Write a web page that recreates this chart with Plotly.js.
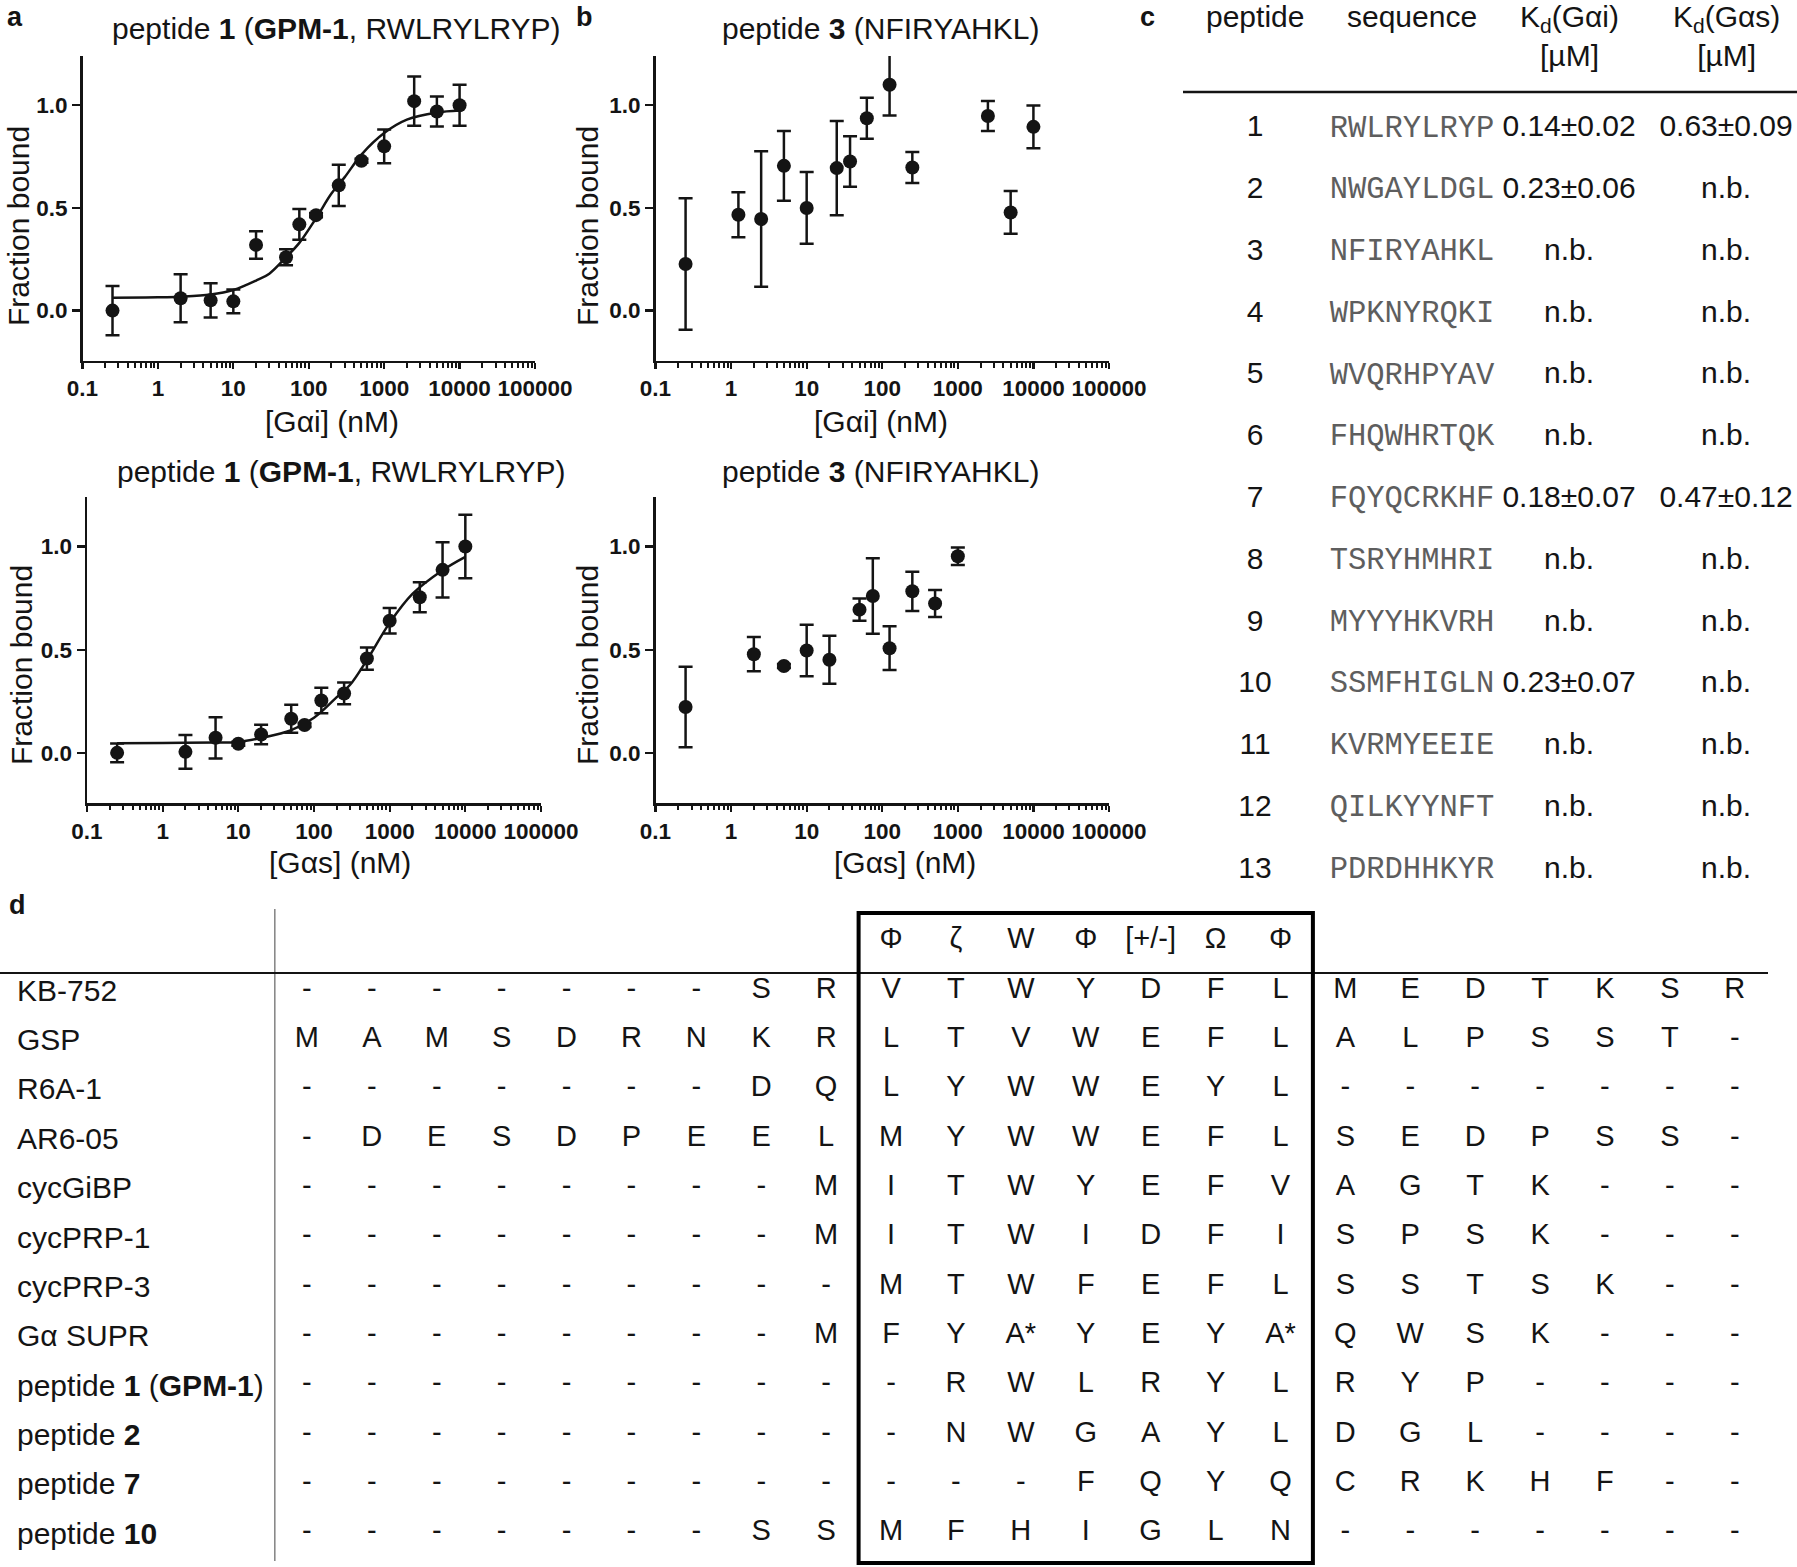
<!DOCTYPE html>
<html>
<head>
<meta charset="utf-8">
<script src="https://cdn.plot.ly/plotly-3.0.1.min.js"></script>
<style>html,body{margin:0;padding:0;background:#fff;}#chart{width:1797px;height:1567px;}</style>
</head>
<body>
<div id="chart"></div>
<script>
// ---------- data ----------
const xTickVals = [0.1, 1, 10, 100, 1000, 10000, 100000];
const xTickText = ['0.1', '1', '10', '100', '1000', '10000', '100000'];
const yTickVals = [0, 0.5, 1];
const yTickText = ['0.0', '0.5', '1.0'];

// a: peptide 1 vs Gαi
const aConc = [0.25, 2, 5, 10, 20, 50, 75, 125, 250, 500, 1000, 2500, 5000, 10000];
const aFrac = [0.00, 0.06, 0.05, 0.045, 0.32, 0.26, 0.42, 0.465, 0.61, 0.73, 0.80, 1.02, 0.97, 1.00];
const aErr  = [0.12, 0.117, 0.083, 0.058, 0.067, 0.039, 0.075, 0.01, 0.10, 0.01, 0.082, 0.12, 0.073, 0.10];
const aFitConc = [0.25, 1, 2, 5, 10, 20, 30, 50, 75, 125, 200, 300, 500, 1000, 2000, 5000, 10000];
const aFitFrac = [0.063, 0.065, 0.068, 0.078, 0.10, 0.146, 0.18, 0.26, 0.33, 0.45, 0.57, 0.65, 0.76, 0.865, 0.93, 0.965, 0.975];

// b: peptide 3 vs Gαi
const bConc = [0.25, 1.25, 2.5, 5, 10, 25, 37.5, 62.5, 125, 250, 2500, 5000, 10000];
const bFrac = [0.227, 0.467, 0.446, 0.705, 0.50, 0.694, 0.726, 0.937, 1.10, 0.697, 0.948, 0.478, 0.895];
const bErr  = [0.32, 0.11, 0.33, 0.17, 0.175, 0.23, 0.123, 0.10, 0.15, 0.075, 0.073, 0.104, 0.104];

// a (bottom): peptide 1 vs Gαs
const cConc = [0.25, 2, 5, 10, 20, 50, 75, 125, 250, 500, 1000, 2500, 5000, 10000];
const cFrac = [0.00, 0.005, 0.073, 0.044, 0.089, 0.165, 0.135, 0.254, 0.288, 0.457, 0.64, 0.754, 0.887, 1.00];
const cErr  = [0.045, 0.082, 0.10, 0.01, 0.047, 0.068, 0.01, 0.062, 0.053, 0.054, 0.062, 0.073, 0.134, 0.154];
const cFitConc = [0.25, 1, 5, 10, 20, 50, 100, 200, 300, 500, 1000, 2000, 5000, 10000];
const cFitFrac = [0.047, 0.048, 0.05, 0.053, 0.072, 0.11, 0.17, 0.27, 0.33, 0.45, 0.63, 0.77, 0.885, 0.95];

// b (bottom): peptide 3 vs Gαs
const dConc = [0.25, 2, 5, 10, 20, 50, 75, 125, 250, 500, 1000];
const dFrac = [0.222, 0.478, 0.421, 0.496, 0.451, 0.694, 0.76, 0.507, 0.783, 0.724, 0.953];
const dErr  = [0.195, 0.083, 0.01, 0.125, 0.116, 0.054, 0.183, 0.106, 0.095, 0.065, 0.042];

// c: table
const tableCols = ['peptide', 'sequence', 'kdGai', 'kdGas'];
const tableHeaders = ['peptide', 'sequence', 'K<sub>d</sub>(Gαi)<br>[µM]', 'K<sub>d</sub>(Gαs)<br>[µM]'];
const peptideIds = [1, 2, 3, 4, 5, 6, 7, 8, 9, 10, 11, 12, 13];
const peptideSeqs = ['RWLRYLRYP', 'NWGAYLDGL', 'NFIRYAHKL', 'WPKNYRQKI', 'WVQRHPYAV', 'FHQWHRTQK', 'FQYQCRKHF',
                     'TSRYHMHRI', 'MYYYHKVRH', 'SSMFHIGLN', 'KVRMYEEIE', 'QILKYYNFT', 'PDRDHHKYR'];
const kdGai = ['0.14±0.02', '0.23±0.06', 'n.b.', 'n.b.', 'n.b.', 'n.b.', '0.18±0.07', 'n.b.', 'n.b.', '0.23±0.07', 'n.b.', 'n.b.', 'n.b.'];
const kdGas = ['0.63±0.09', 'n.b.', 'n.b.', 'n.b.', 'n.b.', 'n.b.', '0.47±0.12', 'n.b.', 'n.b.', 'n.b.', 'n.b.', 'n.b.', 'n.b.'];

// d: alignment
const motif = ['Φ', 'ζ', 'W', 'Φ', '[+/-]', 'Ω', 'Φ'];
const alignNames = ['KB-752', 'GSP', 'R6A-1', 'AR6-05', 'cycGiBP', 'cycPRP-1', 'cycPRP-3', 'Gα SUPR',
                    'peptide <b>1</b> (<b>GPM-1</b>)', 'peptide <b>2</b>', 'peptide <b>7</b>', 'peptide <b>10</b>'];
const alignN = [
  '- - - - - - - S R', 'M A M S D R N K R', '- - - - - - - D Q', '- D E S D P E E L',
  '- - - - - - - - M', '- - - - - - - - M', '- - - - - - - - -', '- - - - - - - - M',
  '- - - - - - - - -', '- - - - - - - - -', '- - - - - - - - -', '- - - - - - - S S'];
const alignCore = [
  'V T W Y D F L', 'L T V W E F L', 'L Y W W E Y L', 'M Y W W E F L',
  'I T W Y E F V', 'I T W I D F I', 'M T W F E F L', 'F Y A* Y E Y A*',
  '- R W L R Y L', '- N W G A Y L', '- - - F Q Y Q', 'M F H I G L N'];
const alignC = [
  'M E D T K S R', 'A L P S S T -', '- - - - - - -', 'S E D P S S -',
  'A G T K - - -', 'S P S K - - -', 'S S T S K - -', 'Q W S K - - -',
  'R Y P - - - -', 'D G L - - - -', 'C R K H F - -', '- - - - - - -'];

// ---------- layout helpers ----------
const W = 1797, H = 1567;
const INK = '#141414';
const FONT = 'Liberation Sans, Arial, Helvetica, sans-serif';
const px = v => v / W;
const py = v => 1 - v / H;

function xAxis(x0, x1, anchor) {
  return {
    type: 'log', domain: [px(x0), px(x1)], range: [-1, 5], anchor: anchor,
    showline: true, linecolor: INK, linewidth: 2.5, ticks: 'outside', ticklen: 6, tickwidth: 2.3, tickcolor: INK,
    tickmode: 'array', tickvals: xTickVals, ticktext: xTickText,
    tickfont: {family: FONT, size: 22.5, weight: 'bold', color: INK}, ticklabelstandoff: 0,
    showgrid: false, zeroline: false, fixedrange: true,
    minor: {ticks: 'outside', ticklen: 4.5, tickwidth: 2, tickcolor: INK, dtick: 'D1', showgrid: false}
  };
}
function yAxis(y0, y1, anchor) {
  return {
    domain: [py(y1), py(y0)], range: [-0.243, 1.24], anchor: anchor,
    showline: true, linecolor: INK, linewidth: 2.5, ticks: 'outside', ticklen: 8, tickwidth: 2.3, tickcolor: INK,
    tickmode: 'array', tickvals: yTickVals, ticktext: yTickText,
    tickfont: {family: FONT, size: 22.5, weight: 'bold', color: INK},
    showgrid: false, zeroline: false, fixedrange: true
  };
}
function points(x, y, err, xa, ya) {
  return {
    type: 'scatter', mode: 'markers', x: x, y: y, xaxis: xa, yaxis: ya,
    marker: {size: 14, color: INK},
    error_y: {type: 'data', array: err, visible: true, thickness: 2.5, width: 7, color: INK},
    cliponaxis: false, hoverinfo: 'skip', showlegend: false
  };
}
function fit(x, y, xa, ya) {
  return {
    type: 'scatter', mode: 'lines', x: x, y: y, xaxis: xa, yaxis: ya,
    line: {color: INK, width: 2.5, shape: 'spline', smoothing: 1},
    hoverinfo: 'skip', showlegend: false
  };
}

const traces = [
  fit(aFitConc, aFitFrac, 'x', 'y'), points(aConc, aFrac, aErr, 'x', 'y'),
  points(bConc, bFrac, bErr, 'x2', 'y2'),
  fit(cFitConc, cFitFrac, 'x3', 'y3'), points(cConc, cFrac, cErr, 'x3', 'y3'),
  points(dConc, dFrac, dErr, 'x4', 'y4')
];

// table c columns
const colTexts = [peptideIds.map(String), peptideSeqs, kdGai, kdGas];
colTexts.forEach((txt, ci) => {
  const mono = tableCols[ci] === 'sequence';
  traces.push({
    type: 'scatter', mode: 'text', xaxis: 'x5', yaxis: 'y5',
    x: peptideIds.map(() => tableCols[ci]), y: peptideIds, text: txt,
    textposition: 'middle center', cliponaxis: false, hoverinfo: 'skip', showlegend: false,
    textfont: mono ? {family: 'Liberation Mono, Courier New, monospace', size: 30.5, color: '#5e5e5e'}
                   : {family: FONT, size: 30, color: INK}
  });
});

// table d cells
const rowKeys = ['motif'].concat(alignNames);
const nN = alignN[0].split(' ').length;
const nCore = alignCore[0].split(' ').length;
const cellX = [], cellY = [], cellT = [];
motif.forEach((m, k) => { cellX.push(nN + k); cellY.push('motif'); cellT.push(m); });
alignNames.forEach((name, r) => {
  const toks = alignN[r].split(' ').concat(alignCore[r].split(' '), alignC[r].split(' '));
  toks.forEach((t, j) => { cellX.push(j); cellY.push(name); cellT.push(t); });
});
traces.push({
  type: 'scatter', mode: 'text', xaxis: 'x6', yaxis: 'y6', x: cellX, y: cellY, text: cellT,
  textposition: 'middle center', cliponaxis: false, hoverinfo: 'skip', showlegend: false,
  textfont: {family: FONT, size: 29, color: INK}
});
const nCols = nN + nCore + alignC[0].split(' ').length;

// ---------- annotations ----------
const ann = [];
function txt(t, x, y, size, opts) {
  ann.push(Object.assign({text: t, xref: 'paper', yref: 'paper', x: px(x), y: py(y),
            xanchor: 'center', yanchor: 'middle', showarrow: false,
            font: {family: FONT, size: size, color: INK}}, opts || {}));
}
// panel letters
txt('<b>a</b>', 15, 17, 27); txt('<b>b</b>', 584, 17, 27); txt('<b>c</b>', 1147, 17, 27); txt('<b>d</b>', 17, 905, 27);
// panel titles
txt('peptide <b>1</b> (<b>GPM-1</b>, RWLRYLRYP)', 336, 28, 30);
txt('peptide <b>3</b> (NFIRYAHKL)', 880, 28, 30);
txt('peptide <b>1</b> (<b>GPM-1</b>, RWLRYLRYP)', 341, 471, 30);
txt('peptide <b>3</b> (NFIRYAHKL)', 880, 471, 30);
// axis titles
txt('[Gαi] (nM)', 332, 422, 30); txt('[Gαi] (nM)', 881, 422, 30);
txt('[Gαs] (nM)', 340, 863, 30); txt('[Gαs] (nM)', 905, 863, 30);
txt('Fraction bound', 18, 226, 30, {textangle: -90});
txt('Fraction bound', 587, 226, 30, {textangle: -90});
txt('Fraction bound', 21, 665, 30, {textangle: -90});
txt('Fraction bound', 587, 665, 30, {textangle: -90});

tableHeaders.forEach((h, i) => {
  const two = h.indexOf('<br>') >= 0;
  ann.push({text: h, xref: 'x5', yref: 'paper', x: i, y: two ? py(-2) : py(17),
            xanchor: 'center', yanchor: two ? 'top' : 'middle', showarrow: false,
            font: {family: FONT, size: 30, color: INK}});
});

alignNames.forEach((name, r) => {
  ann.push({text: name, xref: 'paper', yref: 'y6', x: px(15), y: r + 1, xanchor: 'left', yanchor: 'middle',
            showarrow: false, font: {family: FONT, size: 30, color: INK}});
});

// ---------- shapes ----------
const shapes = [
  {type: 'line', xref: 'paper', yref: 'paper', x0: px(1183), x1: 1, y0: py(92), y1: py(92), line: {color: INK, width: 2.5}},
  {type: 'line', xref: 'paper', yref: 'paper', x0: 0, x1: px(1768), y0: py(973), y1: py(973), line: {color: INK, width: 2}},
  {type: 'line', xref: 'x6', yref: 'paper', x0: -0.5, x1: -0.5, y0: py(1561), y1: py(909), line: {color: INK, width: 1.6}},
  {type: 'rect', xref: 'x6', yref: 'paper', x0: nN - 0.5, x1: nN + nCore - 0.5, y0: py(1563), y1: py(913),
   line: {color: '#000', width: 4}, fillcolor: 'rgba(0,0,0,0)'}
];

const layout = {
  width: W, height: H, margin: {l: 0, r: 0, t: 0, b: 0}, paper_bgcolor: '#fff', plot_bgcolor: 'rgba(0,0,0,0)',
  font: {family: FONT, color: INK}, showlegend: false, hovermode: false,
  xaxis: xAxis(82.5, 535, 'y'),     yaxis: yAxis(56, 360.5, 'x'),
  xaxis2: xAxis(655.5, 1109, 'y2'), yaxis2: yAxis(56, 360.5, 'x2'),
  xaxis3: xAxis(87, 541, 'y3'),     yaxis3: yAxis(497, 803, 'x3'),
  xaxis4: xAxis(655.5, 1109, 'y4'), yaxis4: yAxis(497, 803, 'x4'),
  xaxis5: {type: 'category', categoryorder: 'array', categoryarray: tableCols, range: [-0.5, 3.4],
           domain: [px(1176.5), px(1788.8)], anchor: 'y5', visible: false, fixedrange: true},
  yaxis5: {range: [13.5, 0.5], domain: [py(900.9), py(98.1)], anchor: 'x5', visible: false, fixedrange: true},
  xaxis6: {range: [-0.5, nCols - 0.5], domain: [px(274.5), px(1767.2)], anchor: 'y6', visible: false, fixedrange: true},
  yaxis6: {type: 'category', categoryorder: 'array', categoryarray: rowKeys, range: [rowKeys.length - 0.5, -0.5],
           domain: [py(1557.7), py(916.3)], anchor: 'x6', visible: false, fixedrange: true},
  annotations: ann, shapes: shapes
};

Plotly.newPlot('chart', traces, layout, {displayModeBar: false, staticPlot: true});
</script>
</body>
</html>
